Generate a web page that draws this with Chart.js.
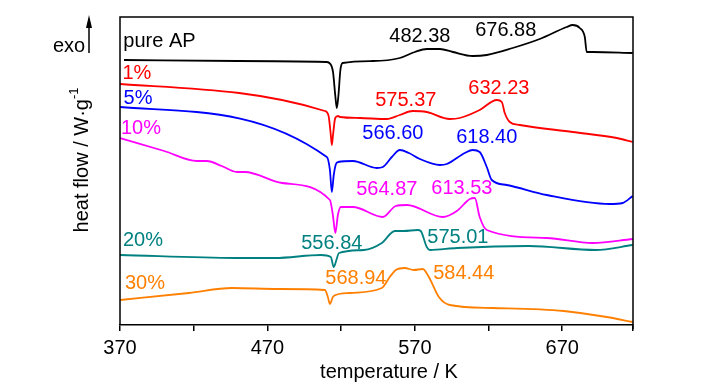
<!DOCTYPE html>
<html>
<head>
<meta charset="utf-8">
<script src="https://cdn.jsdelivr.net/npm/chart.js@4/dist/chart.umd.min.js"></script>
<style>
  html, body { margin: 0; padding: 0; background: #fff; }
  #wrap { width: 721px; height: 387px; }
</style>
</head>
<body>
<div id="wrap"><canvas id="dsc"></canvas></div>
<script>
// DSC curves, temperature (K) vs heat flow (arbitrary offset units)
const apT = [372.7, 450, 510, 512, 514.5, 516, 517.1, 518.2, 519.5, 521, 541.5, 559.8, 570, 578.1, 587, 595.8, 609.3, 618.8, 636.4, 654.7, 673, 677.1, 681.9, 685.3, 686.6, 690.7, 717.8];
const apHF = [26.5, 26.4, 26.3, 26.2, 25.3, 23.0, 21.7, 23.0, 25.5, 26.2, 26.4, 26.7, 27.3, 27.6, 27.6, 27.3, 26.9, 27.0, 27.7, 28.6, 29.8, 30.0, 29.7, 28.8, 27.3, 27.3, 27.2];

const p1T = [370, 509, 511.5, 513, 513.7, 514.5, 516, 518, 519.2, 532.7, 551, 559.8, 568.6, 578.1, 593.7, 600.5, 614, 625.6, 629, 631, 634.4, 641.2, 677.1, 707, 717.8];
const p1HF = [24.1, 21.4, 20.9, 19.0, 18.0, 19.0, 20.7, 20.9, 20.8, 20.7, 20.6, 21.0, 21.4, 21.3, 20.6, 20.7, 21.5, 22.5, 22.3, 21.2, 20.3, 20.0, 19.3, 18.7, 18.3];

const p5T = [370, 510.3, 512.4, 513.7, 515, 516.5, 518, 528, 544.2, 548.3, 554.4, 559.8, 566, 573.4, 587, 591.7, 603.9, 609.3, 614, 618.8, 622.2, 632.4, 659.5, 702.2, 711, 717.8];
const p5HF = [21.8, 16.8, 15.5, 13.3, 15.0, 16.1, 16.3, 16.4, 15.7, 15.8, 16.8, 17.5, 17.2, 16.6, 16.0, 16.1, 17.2, 17.5, 17.3, 15.8, 14.5, 14.0, 13.0, 12.1, 12.2, 12.9];

const p10T = [370, 400, 422.2, 429, 439, 449.3, 454.7, 480, 512.4, 514.4, 516.1, 517.8, 519.8, 528, 548.3, 557.1, 564.6, 589, 598.5, 607.3, 610.7, 614, 618.8, 659.5, 690.7, 717.8];
const p10HF = [18.7, 17.4, 16.4, 16.4, 15.9, 15.3, 15.3, 14.2, 12.5, 11.0, 9.2, 11.0, 11.8, 11.8, 10.8, 11.9, 12.0, 10.8, 11.4, 12.6, 12.7, 10.8, 9.5, 8.7, 8.2, 8.6];

const p20T = [370, 448.6, 475.1, 506.3, 513, 515, 517, 518.5, 535.4, 547.6, 556.4, 562.5, 572, 574, 578.1, 580.2, 598.5, 647.3, 692.7, 717.8];
const p20HF = [7.0, 6.7, 6.7, 7.0, 6.8, 5.8, 6.6, 7.2, 7.5, 8.2, 9.4, 9.4, 9.5, 9.4, 7.8, 7.5, 7.7, 7.9, 7.5, 8.0];

const p30T = [370, 416.8, 445.9, 477.8, 509, 511, 512.4, 514.4, 516.4, 525.9, 547.6, 553, 557.1, 563.2, 569.3, 575.4, 579.5, 586.3, 593.7, 622.9, 671, 700.2, 717.8];
const p30HF = [2.5, 3.2, 3.7, 3.6, 3.5, 2.8, 2.1, 2.8, 3.0, 3.2, 3.7, 4.8, 5.5, 5.7, 5.5, 5.6, 4.8, 2.8, 2.0, 1.7, 1.4, 0.8, 0.3];

const seriesNames = ['pure AP', '1%', '5%', '10%', '20%', '30%'];
const seriesColors = ['#000000', '#ff0000', '#0000ff', '#ff00ff', '#008080', '#ff8000'];
const seriesT = [apT, p1T, p5T, p10T, p20T, p30T];
const seriesHF = [apHF, p1HF, p5HF, p10HF, p20HF, p30HF];

// x ticks: labelled every 100 K, minor every 50 K
const tickValues = [370, 420, 470, 520, 570, 620, 670, 718];
const tickLabels = ['370', '', '470', '', '570', '', '670', ''];

// text notes placed in data coordinates (K, heat flow)
const noteText = ['pure AP', '482.38', '676.88', '1%', '575.37', '632.23', '5%', '566.60', '618.40',
  '10%', '564.87', '613.53', '20%', '556.84', '575.01', '30%', '568.94', '584.44'];
const noteT = [396.8, 573.4, 631.7, 381.5, 563.9, 627.0, 382.2, 555.1, 618.8,
  384.2, 551.0, 601.9, 385.6, 513.7, 599.2, 386.9, 530.0, 603.2];
const noteHF = [28.4, 28.9, 29.5, 25.2, 22.5, 23.7, 22.7, 19.2, 18.8,
  19.7, 13.6, 13.7, 8.5, 8.2, 8.8, 4.2, 4.7, 5.2];
const noteSeries = [0, 0, 0, 1, 1, 1, 2, 2, 2, 3, 3, 3, 4, 4, 4, 5, 5, 5];

const FONT = '"Liberation Sans", Arial, sans-serif';

const decor = {
    id: 'decor',
    afterDraw(chart) {
        const { ctx, chartArea: a, scales: { x, y } } = chart;
        ctx.save();
        // frame (left, top, right)
        ctx.strokeStyle = '#000';
        ctx.lineWidth = 1.5;
        ctx.beginPath();
        ctx.moveTo(a.left, a.bottom);
        ctx.lineTo(a.left, a.top);
        ctx.lineTo(a.right, a.top);
        ctx.lineTo(a.right, a.bottom + 4);
        ctx.stroke();

        // curve notes
        ctx.font = '20px ' + FONT;
        ctx.textAlign = 'center';
        ctx.textBaseline = 'middle';
        noteText.forEach((t, i) => {
            ctx.fillStyle = seriesColors[noteSeries[i]];
            ctx.fillText(t, x.getPixelForValue(noteT[i]), y.getPixelForValue(noteHF[i]));
        });

        // x title
        ctx.fillStyle = '#000';
        ctx.fillText('temperature / K', 389, 372);

        // y title with superscript
        ctx.save();
        ctx.translate(82, 160);
        ctx.rotate(-Math.PI / 2);
        const main = 'heat flow / W\u00b7g';
        ctx.font = '20px ' + FONT;
        const w1 = ctx.measureText(main).width;
        ctx.font = '13px ' + FONT;
        const w2 = ctx.measureText('-1').width;
        const start = -(w1 + w2) / 2;
        ctx.textAlign = 'left';
        ctx.font = '20px ' + FONT;
        ctx.fillText(main, start, 0);
        ctx.font = '13px ' + FONT;
        ctx.fillText('-1', start + w1, -8);
        ctx.restore();

        // exo arrow
        ctx.font = '20px ' + FONT;
        ctx.textAlign = 'center';
        ctx.fillText('exo', 69, 46);
        ctx.lineWidth = 1.5;
        ctx.beginPath();
        ctx.moveTo(89, 53);
        ctx.lineTo(89, 24);
        ctx.stroke();
        ctx.beginPath();
        ctx.moveTo(89, 15);
        ctx.lineTo(86, 28);
        ctx.lineTo(92, 28);
        ctx.closePath();
        ctx.fill();
        ctx.restore();
    }
};

new Chart(document.getElementById('dsc'), {
    type: 'line',
    data: {
        datasets: seriesNames.map((name, i) => ({
            label: name,
            data: seriesT[i].map((t, j) => ({ x: t, y: seriesHF[i][j] })),
            borderColor: seriesColors[i],
            borderWidth: 1.8,
            pointRadius: 0,
            cubicInterpolationMode: 'monotone',
            fill: false
        }))
    },
    options: {
        responsive: true,
        maintainAspectRatio: false,
        animation: false,
        layout: { padding: { left: 120, right: 88, top: 17, bottom: 0 } },
        plugins: { legend: { display: false }, tooltip: { enabled: false } },
        scales: {
            x: {
                type: 'linear',
                min: 370,
                max: 718,
                afterBuildTicks: s => { s.ticks = tickValues.map(v => ({ value: v })); },
                afterFit: s => { s.height = 62; },
                border: { display: true, color: '#000', width: 1.5 },
                grid: { drawOnChartArea: false, drawTicks: true, tickLength: 6, color: '#000', lineWidth: 1.5 },
                ticks: {
                    padding: 5,
                    color: '#000',
                    font: { family: FONT, size: 20 },
                    maxRotation: 0,
                    autoSkip: false,
                    callback: (v, i) => tickLabels[i]
                }
            },
            y: {
                display: false,
                min: 0,
                max: 30.8
            }
        }
    },
    plugins: [decor]
});
</script>
</body>
</html>
